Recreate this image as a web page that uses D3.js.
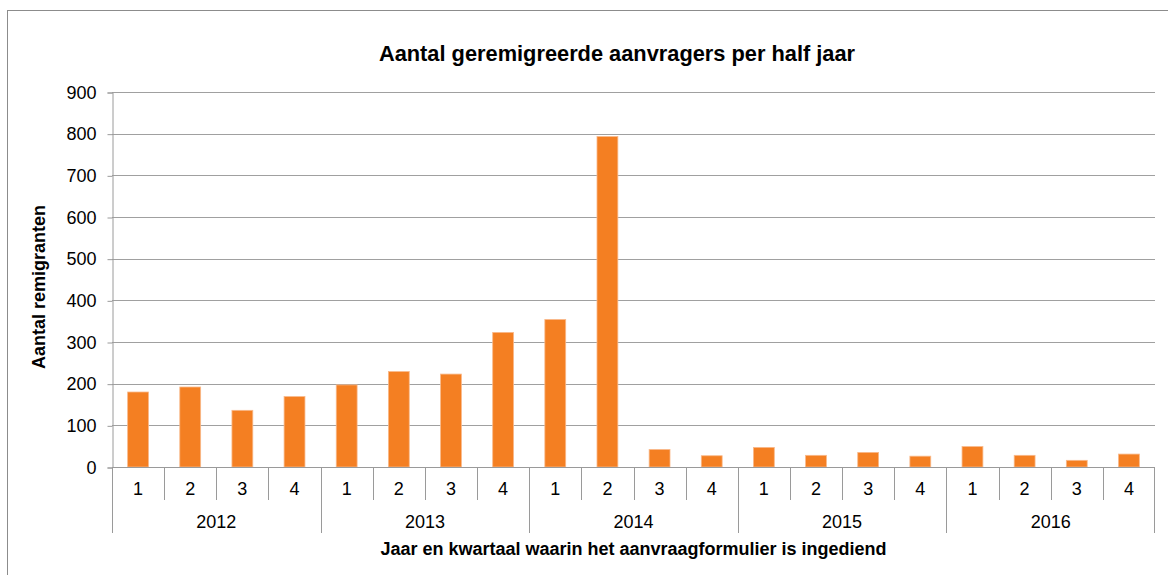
<!DOCTYPE html>
<html>
<head>
<meta charset="utf-8">
<script src="https://cdn.jsdelivr.net/npm/d3@7"></script>
<style>
  body { margin: 0; background: #fff; }
  text { font-family: "Liberation Sans", Arial, sans-serif; fill: #000; }
</style>
</head>
<body>
<script>
var width = 1168;
var height = 575;

// Data
var years = ["2012", "2013", "2014", "2015", "2016"];
var quarters = ["1", "2", "3", "4"];
var values = [180, 192, 136, 169, 197, 229, 223, 323, 354, 793, 42, 27, 47, 28, 35, 26, 49, 28, 16, 31];
var yTicks = [0, 100, 200, 300, 400, 500, 600, 700, 800, 900];

var title = "Aantal geremigreerde aanvragers per half jaar";
var yTitle = "Aantal remigranten";
var xTitle = "Jaar en kwartaal waarin het aanvraagformulier is ingediend";

var margin = {left: 112, right: 13, top: 92, bottom: 108};

var rows = [];
years.forEach(function(y, i) {
    quarters.forEach(function(q, j) {
        rows.push({year: y, quarter: q, key: y + "-" + q, value: values[i * 4 + j]});
    });
});

var svg = d3.select("body").append("svg")
    .attr("width", width)
    .attr("height", height);

// outer chart border
svg.append("rect")
    .attr("x", 7.5).attr("y", 10.5)
    .attr("width", width + 10).attr("height", height + 10)
    .attr("fill", "none")
    .attr("stroke", "#8c8c8c");

var x = d3.scaleBand()
    .domain(rows.map(function(d) { return d.key; }))
    .range([margin.left, width - margin.right])
    .paddingInner(0)
    .paddingOuter(0);

var y = d3.scaleLinear()
    .domain([0, 900])
    .range([height - margin.bottom, margin.top]);

var x0 = x.range()[0], x1 = x.range()[1];
var y0 = y(0);

// gridlines
svg.append("g")
    .selectAll("line")
    .data(yTicks.filter(function(t) { return t > 0; }))
    .enter().append("line")
    .attr("x1", x0).attr("x2", x1)
    .attr("y1", function(d) { return Math.round(y(d)) + 0.5; })
    .attr("y2", function(d) { return Math.round(y(d)) + 0.5; })
    .attr("stroke", "#a0a0a0")
    .attr("stroke-width", 1);

// y axis
var yAxis = d3.axisLeft(y)
    .tickValues(yTicks)
    .tickSize(5)
    .tickPadding(11)
    .tickFormat(d3.format("d"));

var yg = svg.append("g")
    .attr("transform", "translate(" + (x0 + 0.5) + ",0.5)")
    .call(yAxis);
yg.select(".domain").attr("stroke", "#9a9a9a");
yg.selectAll(".tick line").attr("stroke", "#9a9a9a");
yg.selectAll(".tick text")
    .style("font-size", "18px")
    .attr("font-family", "Liberation Sans, Arial, sans-serif")
    .attr("fill", "#000");

// bars
svg.append("g")
    .selectAll("rect")
    .data(rows)
    .enter().append("rect")
    .attr("x", function(d) { return x(d.key) + x.bandwidth() * 0.3; })
    .attr("width", x.bandwidth() * 0.4)
    .attr("y", function(d) { return y(d.value); })
    .attr("height", function(d) { return y0 - y(d.value); })
    .attr("fill", "#f47f22")
    .attr("stroke", "#f9b98a")
    .attr("stroke-width", 0.8);

// x axis (baseline)
svg.append("line")
    .attr("x1", x0).attr("x2", x1)
    .attr("y1", Math.round(y0) + 0.5).attr("y2", Math.round(y0) + 0.5)
    .attr("stroke", "#9a9a9a");

// quarter separators
var sep = svg.append("g").attr("stroke", "#9a9a9a");
rows.forEach(function(d, i) {
    var xs = Math.round(x(d.key)) + 0.5;
    var isYear = i % 4 === 0;
    sep.append("line")
        .attr("x1", xs).attr("x2", xs)
        .attr("y1", y0).attr("y2", isYear ? y0 + 66 : y0 + 33);
});
sep.append("line")
    .attr("x1", Math.round(x1) - 0.5).attr("x2", Math.round(x1) - 0.5)
    .attr("y1", y0).attr("y2", y0 + 66);

// quarter labels
svg.append("g")
    .selectAll("text")
    .data(rows)
    .enter().append("text")
    .attr("x", function(d) { return x(d.key) + x.bandwidth() / 2; })
    .attr("y", y0 + 28)
    .attr("text-anchor", "middle")
    .style("font-size", "18px")
    .text(function(d) { return d.quarter; });

// year labels
svg.append("g")
    .selectAll("text")
    .data(years)
    .enter().append("text")
    .attr("x", function(d) {
        return (x(d + "-1") + x(d + "-4") + x.bandwidth()) / 2;
    })
    .attr("y", y0 + 61)
    .attr("text-anchor", "middle")
    .style("font-size", "18px")
    .text(function(d) { return d; });

// titles
svg.append("text")
    .attr("x", 617)
    .attr("y", 61)
    .attr("text-anchor", "middle")
    .style("font-size", "21.8px")
    .style("font-weight", "bold")
    .text(title);

svg.append("text")
    .attr("x", (x0 + x1) / 2)
    .attr("y", 555)
    .attr("text-anchor", "middle")
    .style("font-size", "18px")
    .style("font-weight", "bold")
    .text(xTitle);

svg.append("text")
    .attr("transform", "translate(45," + 287 + ") rotate(-90)")
    .attr("text-anchor", "middle")
    .style("font-size", "18px")
    .style("font-weight", "bold")
    .text(yTitle);
</script>
</body>
</html>
